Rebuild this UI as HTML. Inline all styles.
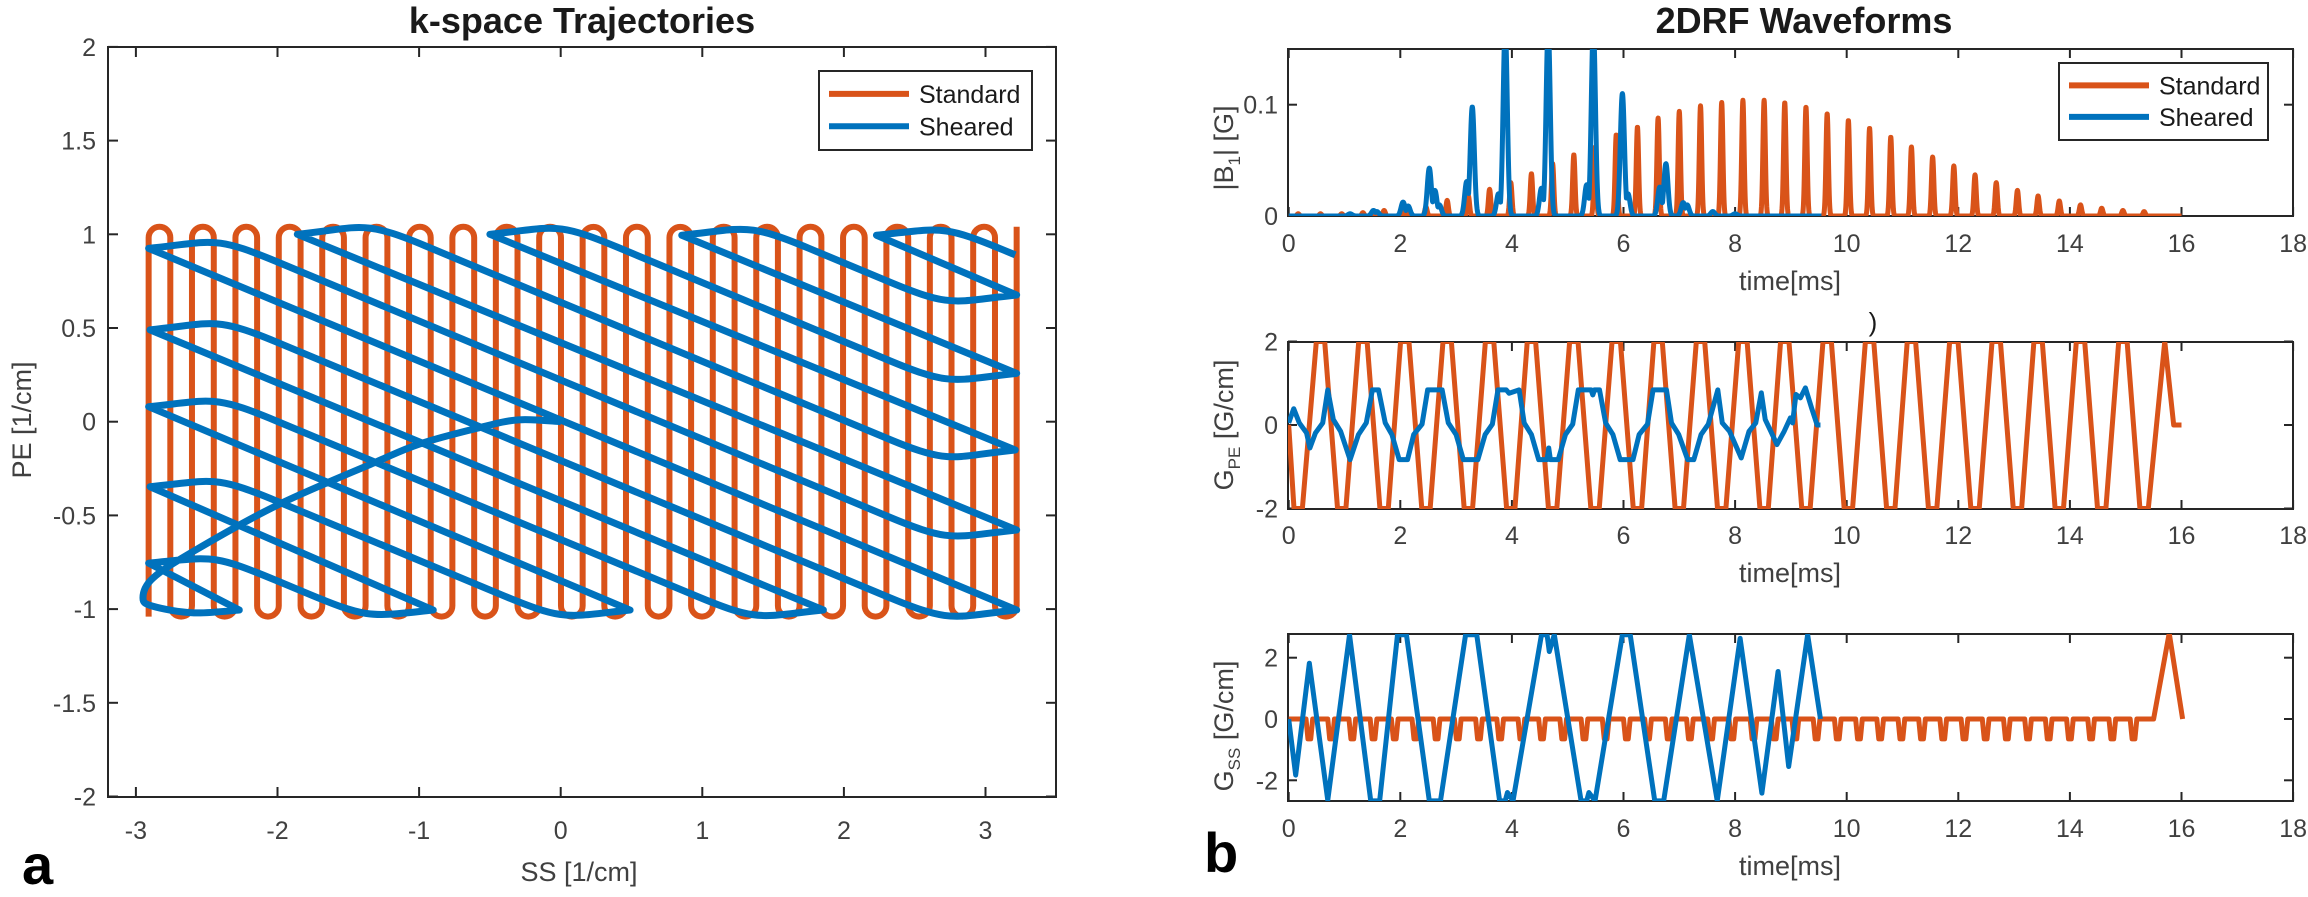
<!DOCTYPE html>
<html><head><meta charset="utf-8">
<style>
html,body{margin:0;padding:0;background:#fff;}
svg{display:block;font-family:"Liberation Sans",Arial,sans-serif;}
.tk{font-size:25px;fill:#404040;}
.lab{font-size:27px;fill:#404040;}
.ttl{font-size:36px;font-weight:bold;fill:#1a1a1a;}
.leg{font-size:25px;fill:#1a1a1a;}
</style></head>
<body>
<svg id="fig" width="2308" height="897" viewBox="0 0 2308 897" xmlns="http://www.w3.org/2000/svg">
<defs>
<clipPath id="clipK"><rect x="108" y="47" width="948" height="750"/></clipPath>
<clipPath id="clipB"><rect x="1288" y="49" width="1005" height="167"/></clipPath>
<clipPath id="clipP"><rect x="1288" y="342" width="1005" height="167"/></clipPath>
<clipPath id="clipS"><rect x="1288" y="634" width="1005" height="167"/></clipPath>
</defs>
<g id="kspace"></g>
<g id="b1"></g>
<g id="gpe"></g>
<g id="gss"></g>
<text class="ttl" x="582" y="33" text-anchor="middle">k-space Trajectories</text>
<text class="ttl" x="1804" y="33" text-anchor="middle">2DRF Waveforms</text>
<text x="22" y="884" font-size="56" font-weight="bold" fill="#000">a</text>
<text x="1204" y="872" font-size="56" font-weight="bold" fill="#000">b</text>
<text class="lab" x="579" y="881" text-anchor="middle">SS [1/cm]</text>
<text class="lab" transform="rotate(-90 31 420)" x="31" y="420" text-anchor="middle">PE [1/cm]</text>
<text class="lab" transform="rotate(-90 1233 148)" x="1233" y="148" text-anchor="middle">|B<tspan font-size="17" dy="7">1</tspan><tspan dy="-7">| [G]</tspan></text>
<text class="lab" transform="rotate(-90 1233 425)" x="1233" y="425" text-anchor="middle">G<tspan font-size="17" dy="7">PE</tspan><tspan dy="-7"> [G/cm]</tspan></text>
<text class="lab" transform="rotate(-90 1233 726)" x="1233" y="726" text-anchor="middle">G<tspan font-size="17" dy="7">SS</tspan><tspan dy="-7"> [G/cm]</tspan></text>
<text class="lab" x="1790" y="290" text-anchor="middle">time[ms]</text>
<text class="lab" x="1790" y="582" text-anchor="middle">time[ms]</text>
<text class="lab" x="1790" y="875" text-anchor="middle">time[ms]</text>
<text x="1873" y="331" font-size="26" fill="#1a1a1a" text-anchor="middle">)</text>
</svg>
<script>
// ===== k-space data =====
const stdLineSS = [-2.91,-2.757,-2.604,-2.450,-2.297,-2.144,-1.991,-1.837,-1.684,-1.531,-1.378,-1.224,-1.071,-0.918,-0.765,-0.611,-0.458,-0.305,-0.152,0.002,0.155,0.308,0.461,0.615,0.768,0.921,1.074,1.228,1.381,1.534,1.687,1.841,1.994,2.147,2.300,2.454,2.607,2.760,2.913,3.067,3.22];
const stdPeExtent = [-1.04, 1.04];
const shStartSS = [0.0,-0.3,-0.59,-1.0,-1.32,-2.0,-2.59,-2.88,-2.95,-2.88,-2.59,-2.27];
const shStartPE = [0.0,0.01,-0.035,-0.12,-0.22,-0.445,-0.69,-0.835,-0.94,-0.985,-1.02,-1.005];
const shLeftTipSS = [-2.91,-2.9,-2.91,-2.9,-2.91,-1.86,-0.50,0.855,2.23];
const shLeftTipPE = [-0.755,-0.347,0.08,0.49,0.925,1.0,1.0,0.995,0.995];
const shRightTipSS = [-2.27,-0.90,0.49,1.855,3.22,3.22,3.21,3.22,3.22];
const shRightTipPE = [-1.005,-1.005,-1.005,-1.005,-1.005,-0.578,-0.151,0.258,0.676];
const shEnd = [3.21, 0.89];
const shSlope = -0.315;
const kXTicks = [-3,-2,-1,0,1,2,3];
const kYTicks = [-2,-1.5,-1,-0.5,0,0.5,1,1.5,2];
const kYTickLabels = ["-2","-1.5","-1","-0.5","0","0.5","1","1.5","2"];

// ===== waveform data =====
const gpeBottomT = [0.17,0.95,1.71,2.46,3.22,3.98,4.73,5.49,6.25,7.0,7.76,8.52,9.27,10.03,10.79,11.54,12.3,13.06,13.81,14.57,15.33];
const gpeTopT = [0.57,1.33,2.08,2.84,3.6,4.35,5.11,5.87,6.62,7.38,8.14,8.89,9.65,10.41,11.16,11.92,12.68,13.43,14.19,14.95,15.7];
const gpeAmp = [2];
const stdB1T = [0.17,0.57,0.95,1.33,1.71,2.08,2.46,2.84,3.22,3.6,3.98,4.35,4.73,5.11,5.49,5.87,6.25,6.62,7.0,7.38,7.76,8.14,8.52,8.89,9.27,9.65,10.03,10.41,10.79,11.16,11.54,11.92,12.3,12.68,13.06,13.43,13.81,14.19,14.57,14.95,15.33];
const stdB1H = [0.002,0.002,0.002,0.003,0.005,0.006,0.008,0.014,0.018,0.024,0.03,0.038,0.047,0.055,0.062,0.073,0.080,0.088,0.094,0.099,0.102,0.104,0.104,0.102,0.098,0.092,0.086,0.079,0.071,0.062,0.053,0.045,0.037,0.030,0.023,0.018,0.0135,0.010,0.007,0.005,0.004];
const shB1T = [1.1,1.52,1.58,2.05,2.14,2.52,2.62,2.7,3.19,3.29,3.76,3.88,4.53,4.65,5.34,5.46,5.98,6.08,6.65,6.76,7.07,7.14,7.6,8.0];
const shB1H = [0.002,0.005,0.004,0.0125,0.009,0.043,0.023,0.01,0.031,0.098,0.02,0.17,0.025,0.17,0.028,0.17,0.110,0.02,0.026,0.047,0.012,0.01,0.004,0.002];
const stdGssDipT = [0.37,0.76,1.14,1.52,1.90,2.27,2.65,3.03,3.41,3.79,4.17,4.54,4.92,5.30,5.68,6.06,6.44,6.81,7.19,7.57,7.95,8.33,8.71,9.08,9.46,9.84,10.22,10.60,10.98,11.35,11.73,12.11,12.49,12.87,13.25,13.62,14.00,14.38,14.76,15.14];
const stdGssDipDepth = [-0.65];
const stdGssTailT = [15.5,15.78,16.02];
const stdGssTailV = [0,2.8,0];
const shGpeT = [0,0.09,0.19,0.32,0.38,0.48,0.61,0.70,0.80,0.93,1.10,1.25,1.39,1.50,1.61,1.73,1.85,1.98,2.13,2.24,2.39,2.49,2.75,2.86,3.0,3.13,3.39,3.52,3.65,3.75,3.9,3.95,4.13,4.22,4.35,4.48,4.63,4.66,4.69,4.83,4.96,5.09,5.19,5.42,5.45,5.48,5.57,5.68,5.81,5.94,6.17,6.28,6.43,6.53,6.77,6.86,6.99,7.15,7.26,7.39,7.52,7.69,7.77,7.90,8.11,8.25,8.37,8.47,8.54,8.64,8.75,8.88,8.99,9.03,9.09,9.17,9.26,9.37,9.47,9.53];
const shGpeV = [0.05,0.39,0.05,-0.19,-0.55,-0.19,0.05,0.84,0.13,-0.15,-0.83,-0.23,0.05,0.84,0.84,0.05,-0.23,-0.83,-0.83,-0.23,0.02,0.84,0.84,0.05,-0.23,-0.83,-0.83,-0.23,0.02,0.84,0.84,0.76,0.84,0.05,-0.23,-0.83,-0.83,-0.55,-0.83,-0.83,-0.23,0.02,0.84,0.84,0.72,0.84,0.84,0.05,-0.23,-0.83,-0.83,-0.23,0.02,0.84,0.84,0.05,-0.23,-0.83,-0.83,-0.23,0.02,0.84,0.05,-0.15,-0.79,-0.15,0.05,0.77,0.13,-0.15,-0.47,-0.15,0.17,0.05,0.73,0.65,0.89,0.41,0.0,0.0];
const shGssT = [0,0.125,0.37,0.70,1.09,1.47,1.63,1.95,2.11,2.52,2.72,3.17,3.37,3.78,3.88,3.92,4.02,4.53,4.63,4.67,4.76,5.24,5.34,5.38,5.49,5.98,6.12,6.56,6.72,7.18,7.68,8.09,8.48,8.77,8.96,9.30,9.53];
const shGssV = [0,-1.83,1.82,-2.65,2.75,-2.67,-2.67,2.75,2.75,-2.67,-2.67,2.75,2.75,-2.67,-2.67,-2.4,-2.67,2.75,2.75,2.2,2.75,-2.67,-2.67,-2.4,-2.67,2.75,2.75,-2.67,-2.67,2.75,-2.67,2.63,-2.42,1.55,-1.55,2.75,0];
const tTicks = [0,2,4,6,8,10,12,14,16,18];

// ===== helpers =====
const NS = "http://www.w3.org/2000/svg";
const ORANGE = "#D95319", BLUE = "#0072BD", AX = "#262626";
function mk(tag, parent, attrs){const e=document.createElementNS(NS,tag);for(const k in attrs)e.setAttribute(k,attrs[k]);parent.appendChild(e);return e;}

const kX = ss => 560.7 + 141.6*ss;
const kY = pe => 421.7 - 187.4*pe;
const tX = t => 1288.7 + 55.8*t;
const bY = b => 216 - 1113*b;
const pY = v => 425 - 41.75*v;
const sY = v => 719 - 30.65*v;

function axesBox(g, x0,y0,x1,y1, name){
  const r = mk("rect", g, {x:x0,y:y0,width:x1-x0,height:y1-y0,fill:"none",stroke:AX,"stroke-width":2});
  
  
}
function xTicks(g, vals, labels, fx, y0, y1, len, labY, name){
  vals.forEach((v,i)=>{
    const x=fx(v);
    const t1=mk("line",g,{x1:x,x2:x,y1:y1,y2:y1-len,stroke:AX,"stroke-width":2});
    
    
    mk("line",g,{x1:x,x2:x,y1:y0,y2:y0+len,stroke:AX,"stroke-width":2});
    const tx=mk("text",g,{x:x,y:labY,"text-anchor":"middle",class:"tk"});
    tx.textContent=labels[i];
    
    
  });
}
function yTicks(g, vals, labels, fy, x0, x1, len, labX, name){
  vals.forEach((v,i)=>{
    const y=fy(v);
    const t1=mk("line",g,{x1:x0,x2:x0+len,y1:y,y2:y,stroke:AX,"stroke-width":2});
    
    
    mk("line",g,{x1:x1,x2:x1-len,y1:y,y2:y,stroke:AX,"stroke-width":2});
    const tx=mk("text",g,{x:labX,y:y+9,"text-anchor":"end",class:"tk"});
    tx.textContent=labels[i];
    
    
  });
}
function polyline(g, pts, color, w, clip, name){
  const d = pts.map((p,i)=>(i?"L":"M")+p[0].toFixed(2)+" "+p[1].toFixed(2)).join("");
  const p = mk("path", g, {d:d,fill:"none",stroke:color,"stroke-width":w,"stroke-linejoin":"round","clip-path":"url(#"+clip+")"});
  
  
  return p;
}
function legend(g, x0,y0,x1,y1, name){
  const r=mk("rect",g,{x:x0,y:y0,width:x1-x0,height:y1-y0,fill:"#fff",stroke:AX,"stroke-width":2});
  
  
  const h=(y1-y0);
  [[ORANGE,"Standard",y0+h*0.29],[BLUE,"Sheared",y0+h*0.70]].forEach(([c,t,yy])=>{
    const l=mk("line",g,{x1:x0+10,x2:x0+90,y1:yy,y2:yy,stroke:c,"stroke-width":6});
    
    
    const tx=mk("text",g,{x:x0+100,y:yy+9,class:"leg"});
    tx.textContent=t;
    
    
  });
}

// ===== k-space plot =====
(function(){
  const g=document.getElementById("kspace");
  axesBox(g,108,47,1056,797,"kspace-axes-box");
  xTicks(g,kXTicks,kXTicks.map(String),kX,47,797,10,839,"kspace-x");
  yTicks(g,kYTicks,kYTickLabels,kY,108,1056,10,96,"kspace-y");
  const r = (kX(stdLineSS[1])-kX(stdLineSS[0]))/2;
  const yTop = kY(stdPeExtent[1])+r, yBot = kY(stdPeExtent[0])-r;
  let d = "M"+kX(stdLineSS[0]).toFixed(2)+" "+kY(stdPeExtent[0]).toFixed(2);
  for(let i=0;i<stdLineSS.length;i++){
    const x=kX(stdLineSS[i]);
    const up = (i%2===0);
    const last = i===stdLineSS.length-1;
    if(up){
      d += "L"+x.toFixed(2)+" "+(last?kY(stdPeExtent[1]):yTop).toFixed(2);
      if(!last){const xn=kX(stdLineSS[i+1]);const rr=(xn-x)/2;d+="A"+rr.toFixed(2)+" "+rr.toFixed(2)+" 0 0 1 "+xn.toFixed(2)+" "+yTop.toFixed(2);}
    } else {
      d += "L"+x.toFixed(2)+" "+(last?kY(stdPeExtent[0]):yBot).toFixed(2);
      if(!last){const xn=kX(stdLineSS[i+1]);const rr=(xn-x)/2;d+="A"+rr.toFixed(2)+" "+rr.toFixed(2)+" 0 0 0 "+xn.toFixed(2)+" "+yBot.toFixed(2);}
    }
  }
  const sp=mk("path",g,{d:d,fill:"none",stroke:ORANGE,"stroke-width":6,"clip-path":"url(#clipK)"});
  
  

  const P = (ss,pe)=>kX(ss).toFixed(2)+" "+kY(pe).toFixed(2);
  const sx=shStartSS.map(kX), sy=shStartPE.map(kY);
  let e="M"+sx[0].toFixed(2)+" "+sy[0].toFixed(2);
  for(let i=0;i<sx.length-1;i++){
    const i0=Math.max(0,i-1), i3=Math.min(sx.length-1,i+2);
    const c1x=sx[i]+(sx[i+1]-sx[i0])/6, c1y=sy[i]+(sy[i+1]-sy[i0])/6;
    const c2x=sx[i+1]-(sx[i3]-sx[i])/6, c2y=sy[i+1]-(sy[i3]-sy[i])/6;
    e+="C"+c1x.toFixed(2)+" "+c1y.toFixed(2)+" "+c2x.toFixed(2)+" "+c2y.toFixed(2)+" "+sx[i+1].toFixed(2)+" "+sy[i+1].toFixed(2);
  }
  const m=shSlope, off=0.9, h=0.45;
  const dirLen=0.45;
  for(let k=0;k<shLeftTipSS.length;k++){
    const Lx=shLeftTipSS[k], Ly=shLeftTipPE[k];
    e+="L"+P(Lx,Ly);
    let cL=Ly-m*Lx, cR, Rx, Ry;
    if(k<shLeftTipSS.length-1){Rx=shRightTipSS[k+1];Ry=shRightTipPE[k+1];cR=Ry-m*Rx;}
    else {Rx=shEnd[0];Ry=shEnd[1];cR=Ry-m*Rx;}
    const c=(k<shLeftTipSS.length-1)?(cL+cR)/2:cR;
    const ax=Lx+off, ay=c+m*ax;
    e+="C"+P(Lx+h,Ly+0.035)+" "+P(ax-dirLen,ay-m*dirLen)+" "+P(ax,ay);
    if(k<shLeftTipSS.length-1){
      const bx=Rx-off, by=c+m*bx;
      e+="L"+P(bx,by);
      e+="C"+P(bx+dirLen,by+m*dirLen)+" "+P(Rx-h,Ry-0.035)+" "+P(Rx,Ry);
    } else {
      e+="L"+P(Rx,Ry);
    }
  }
  const shp=mk("path",g,{d:e,fill:"none",stroke:BLUE,"stroke-width":7,"stroke-linejoin":"round","clip-path":"url(#clipK)"});
  
  
  legend(g,819,71,1032,150,"kspace-legend");
})();

// ===== |B1| plot =====
(function(){
  const g=document.getElementById("b1");
  axesBox(g,1288,49,2293,216,"b1-axes-box");
  xTicks(g,tTicks,tTicks.map(String),tX,49,216,9,252,"b1-x");
  yTicks(g,[0,0.1],["0","0.1"],bY,1288,2293,9,1278,"b1-y");
  function env(T,H,sig,tEnd){
    const pts=[];
    for(let t=0;t<=tEnd+1e-9;t+=0.004){
      let v=0;
      for(let i=0;i<T.length;i++){const dt=(t-T[i])/sig; if(Math.abs(dt)<4){v=Math.max(v,H[i]*Math.exp(-dt*dt));}}
      pts.push([tX(t),bY(v)]);
    }
    return pts;
  }
  polyline(g,env(stdB1T,stdB1H,0.03,16),ORANGE,5,"clipB","b1-standard-line");
  polyline(g,env(shB1T,shB1H,0.052,9.55),BLUE,5,"clipB","b1-sheared-line");
  legend(g,2059,63,2268,140,"b1-legend");
})();

// ===== GPE plot =====
(function(){
  const g=document.getElementById("gpe");
  axesBox(g,1288,342,2293,509,"gpe-axes-box");
  xTicks(g,tTicks,tTicks.map(String),tX,342,509,9,544,"gpe-x");
  yTicks(g,[-2,0,2],["-2","0","2"],pY,1288,2293,9,1278,"gpe-y");
  const ext=[];
  gpeBottomT.forEach(t=>ext.push([t,-gpeAmp[0]]));
  gpeTopT.forEach(t=>ext.push([t,gpeAmp[0]]));
  ext.sort((a,b)=>a[0]-b[0]);
  const pts=[[tX(0),pY(0)]];
  ext.forEach((p,i)=>{
    if(i===ext.length-1){pts.push([tX(p[0]),pY(p[1])]);}
    else{pts.push([tX(p[0]-0.075),pY(p[1])]);pts.push([tX(p[0]+0.075),pY(p[1])]);}
  });
  pts.push([tX(15.86),pY(0)]);pts.push([tX(16.0),pY(0)]);
  polyline(g,pts,ORANGE,5,"clipP","gpe-standard-line");
  polyline(g,shGpeT.map((t,i)=>[tX(t),pY(shGpeV[i])]),BLUE,5,"clipP","gpe-sheared-line");
})();

// ===== GSS plot =====
(function(){
  const g=document.getElementById("gss");
  axesBox(g,1288,634,2293,801,"gss-axes-box");
  xTicks(g,tTicks,tTicks.map(String),tX,634,801,9,837,"gss-x");
  yTicks(g,[-2,0,2],["-2","0","2"],sY,1288,2293,9,1278,"gss-y");
  const pts=[[tX(0),sY(0)]];
  stdGssDipT.forEach(t=>{
    pts.push([tX(t-0.06),sY(0)]);
    pts.push([tX(t-0.025),sY(stdGssDipDepth[0])]);
    pts.push([tX(t+0.025),sY(stdGssDipDepth[0])]);
    pts.push([tX(t+0.06),sY(0)]);
  });
  stdGssTailT.forEach((t,i)=>pts.push([tX(t),sY(stdGssTailV[i])]));
  polyline(g,pts,ORANGE,5,"clipS","gss-standard-line");
  polyline(g,shGssT.map((t,i)=>[tX(t),sY(shGssV[i])]),BLUE,5,"clipS","gss-sheared-line");
})();
</script>
</body></html>
